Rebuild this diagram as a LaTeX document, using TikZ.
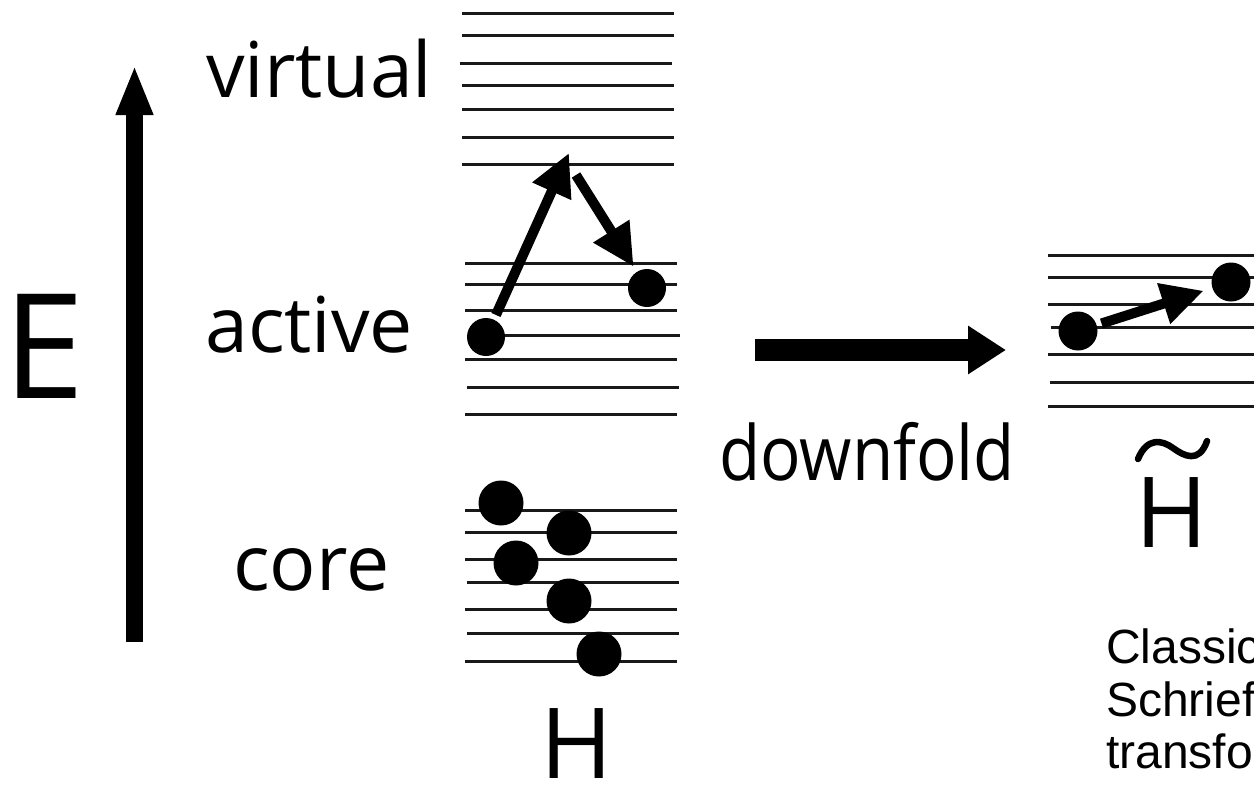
\documentclass[tikz,border=0pt]{standalone}
\usepackage{fontspec}
\setmainfont{Open Sans}
\newfontfamily\arialfont{Liberation Sans}
\usetikzlibrary{arrows.meta}
\begin{document}
\begin{tikzpicture}[x=1pt,y=-1pt,
  level/.style={line width=3pt, black!90},
  dot/.style={circle, fill=black, inner sep=0pt, minimum size=38pt},
  coredot/.style={circle, fill=black, inner sep=0pt, minimum size=45pt},
  thinarrow/.style={line width=10pt, -{Triangle[length=42pt,width=40pt]}},
  label/.style={inner sep=0pt, anchor=base west, font=\fontsize{77}{82}\selectfont},
  caption/.style={inner sep=0pt, anchor=base west, font=\arialfont\fontsize{48}{54}\selectfont}]
\clip (0,0) rectangle (1254,785);
\useasboundingbox (0,0) rectangle (1254,785);

% energy axis
\coordinate (ebot) at (134.5,642);
\coordinate (etop) at (134.5,65);
\draw[line width=17pt, -{Triangle[length=50pt,width=34pt]}] (ebot) -- (etop);
\node[inner sep=0pt, anchor=base west, font=\fontsize{146}{150}\selectfont] (E) at (3,398) {E};

% labels
\node[label] (lvirt) at (206,97) {virtual};
\node[label] (lact) at (205,352) {active};
\node[label] (lcore) at (233,590) {core};

% virtual levels
\foreach \y/\a/\b in {13/462/674, 35/462/674, 63/460/672, 85/462/674, 109/462/674, 137/462/674, 164/462/674}
  \draw[level] (\a,\y) -- (\b,\y);
% active levels
\foreach \y/\a/\b in {263/465/677, 284/465/677, 310/465/677, 335/470/680, 359/465/677, 387/467/679, 414/465/677}
  \draw[level] (\a,\y) -- (\b,\y);
% core levels
\foreach \y/\a/\b in {510/465/677, 532/465/677, 559/465/677, 582/467/679, 609/465/677, 633/467/679, 661/465/677}
  \draw[level] (\a,\y) -- (\b,\y);

% active electrons
\node[dot] (a1) at (486,337) {};
\node[dot] (a2) at (647,288) {};
\coordinate (p1) at (569,153);
\coordinate (p2) at (576,175);
\draw[thinarrow, shorten <=5pt] (a1) -- (p1);
\draw[thinarrow, shorten >=6pt] (p2) -- (a2);

% core electrons
\node[coredot] (c1) at (501,503) {};
\node[coredot] (c2) at (569,533) {};
\node[coredot] (c3) at (516,563) {};
\node[coredot] (c4) at (569,601) {};
\node[coredot] (c5) at (599,654) {};

\node[inner sep=0pt, anchor=base, font=\fontsize{98}{110}\selectfont] (H) at (577,778) {H};

% downfold arrow
\coordinate (dfa) at (755,350);
\coordinate (dfb) at (1006,350);
\draw[line width=22pt, -{Triangle[length=38pt,width=46pt]}] (dfa) -- (dfb);
\node[inner sep=0pt, anchor=base west, font=\fontsize{76}{80}\selectfont] (df) at (719,480) {\scalebox{0.885}[1]{downfold}};

% effective levels
\foreach \y/\a in {255/1048, 277/1048, 304/1048, 327/1051, 354/1048, 382/1050, 406/1048}
  \draw[level] (\a,\y) -- (1260,\y);
\node[dot, minimum size=39pt] (b1) at (1078,331) {};
\node[dot, minimum size=39pt] (b2) at (1231,282) {};
\draw[thinarrow, shorten <=5pt, shorten >=9pt] (b1) -- (b2);

\node[inner sep=0pt, anchor=base, font=\fontsize{98}{110}\selectfont] (Ht) at (1172,547) {H};
\draw[line width=6.5pt, line cap=round] (1138,459) .. controls (1147,437) and (1162,440) .. (1173,448) .. controls (1184,456) and (1199,464) .. (1207,441);

% caption
\node[caption] (t1) at (1106,663) {Classic};
\node[caption] (t2) at (1106,716) {Schrief};
\node[caption] (t3) at (1106,768) {transfo};
\end{tikzpicture}
\end{document}
